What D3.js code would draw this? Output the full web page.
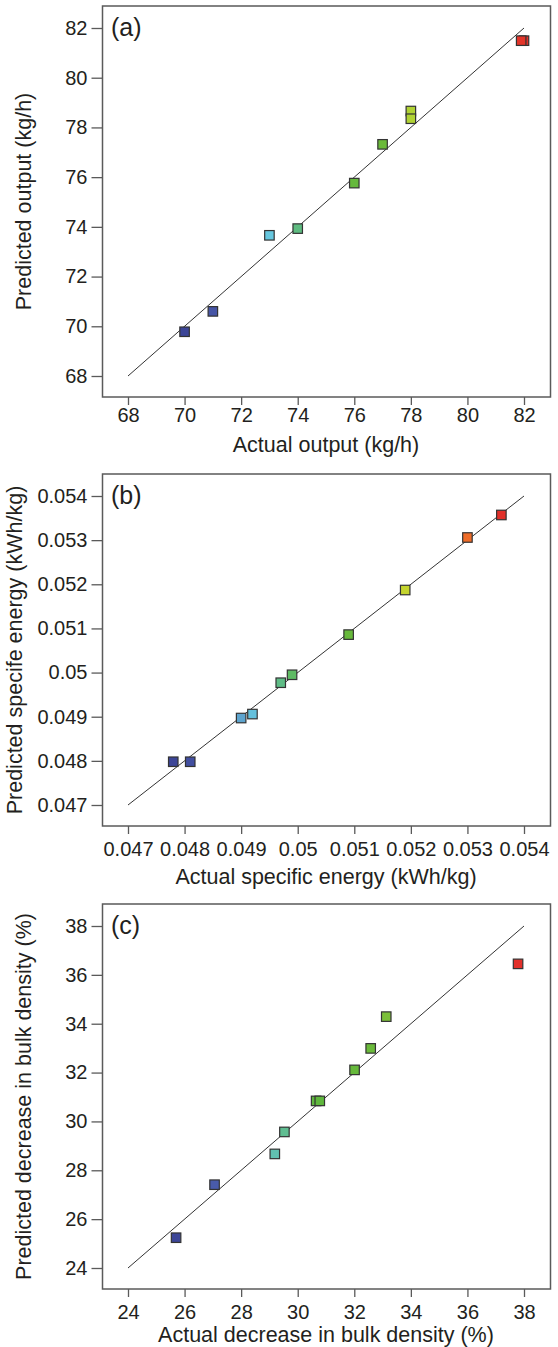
<!DOCTYPE html>
<html>
<head>
<meta charset="utf-8">
<script src="https://cdn.jsdelivr.net/npm/d3@7"></script>
<style>
  body { margin: 0; background: #fff; }
  svg { display: block; font-family: "Liberation Sans", Arial, sans-serif; }
  .tick text { fill: #231f20; }
</style>
</head>
<body>
<div id="chart"></div>
<script>
// panel (a) output
const aActual    = [70, 71, 73, 74, 76, 77, 78, 78, 82.0, 81.9];
const aPredicted = [69.78, 70.6, 73.66, 73.93, 75.76, 77.32, 78.66, 78.35, 81.49, 81.49];
const aTicks = [68, 70, 72, 74, 76, 78, 80, 82];

// panel (b) specific energy
const bActual    = [0.0478, 0.0481, 0.0490, 0.0492, 0.0497, 0.0499, 0.0509, 0.0519, 0.0530, 0.0536];
const bPredicted = [0.04798, 0.04798, 0.04897, 0.04906, 0.04977, 0.04995, 0.05086, 0.05187, 0.05306, 0.05357];
const bTicks = [0.047, 0.048, 0.049, 0.050, 0.051, 0.052, 0.053, 0.054];

// panel (c) decrease in bulk density
const cActual    = [25.7, 27.06, 29.19, 29.53, 30.65, 30.78, 32.01, 32.58, 33.13, 37.79];
const cPredicted = [25.24, 27.41, 28.67, 29.57, 30.84, 30.84, 32.11, 32.99, 34.29, 36.45];
const cTicks = [24, 26, 28, 30, 32, 34, 36, 38];

const width = 558, height = 1347;
const frameL = 102.5, frameR = 550.5;

// colour by actual value, low = blue, high = red
const colorStops = [0, 0.12, 0.25, 0.31, 0.4, 0.6, 0.67, 0.72, 0.9, 1];
const colorRange = ["#3c4597", "#4a5cab", "#66c7df", "#5fbd98", "#5db73d", "#6cba3a", "#b3d334", "#cad52c", "#f06a28", "#e2302a"];

const panels = [
    { label: "(a)", actual: aActual, predicted: aPredicted, ticks: aTicks,
      top: 6, bottom: 397, xPad: 3, titleDy: 54.5, yTitleX: 31,
      xTitle: "Actual output (kg/h)", yTitle: "Predicted output (kg/h)", fmt: d => d },
    { label: "(b)", actual: bActual, predicted: bPredicted, ticks: bTicks,
      top: 474, bottom: 826, xPad: 8, titleDy: 58, yTitleX: 22,
      xTitle: "Actual specific energy (kWh/kg)", yTitle: "Predicted specife energy (kWh/kg)", fmt: d => +d.toFixed(3) },
    { label: "(c)", actual: cActual, predicted: cPredicted, ticks: cTicks,
      top: 904, bottom: 1289, xPad: 7.5, titleDy: 53, yTitleX: 31,
      xTitle: "Actual decrease in bulk density (%)", yTitle: "Predicted decrease in bulk density (%)", fmt: d => d }
];

const svg = d3.select("#chart").append("svg")
    .attr("width", width)
    .attr("height", height);

panels.forEach(p => {
    const lo = p.ticks[0], hi = p.ticks[p.ticks.length - 1];
    const x = d3.scaleLinear().domain([lo, hi]).range([128, 524]);
    const y = d3.scaleLinear().domain([lo, hi]).range([p.bottom - 21, p.top + 22]);
    const ext = d3.extent(p.actual);
    const color = d3.scaleLinear()
        .domain(colorStops.map(t => ext[0] + t * (ext[1] - ext[0])))
        .range(colorRange);

    const g = svg.append("g");

    // frame
    g.append("rect")
        .attr("x", frameL).attr("y", p.top)
        .attr("width", frameR - frameL).attr("height", p.bottom - p.top)
        .attr("fill", "none").attr("stroke", "#5a5a5a").attr("stroke-width", 1.5);

    const xAxis = g.append("g")
        .attr("transform", `translate(0,${p.bottom})`)
        .call(d3.axisBottom(x).tickValues(p.ticks).tickFormat(p.fmt).tickSize(8).tickPadding(p.xPad));
    const yAxis = g.append("g")
        .attr("transform", `translate(${frameL},0)`)
        .call(d3.axisLeft(y).tickValues(p.ticks).tickFormat(p.fmt).tickSize(11).tickPadding(4));
    [xAxis, yAxis].forEach(a => {
        a.select(".domain").remove();
        a.selectAll(".tick line").attr("stroke", "#5a5a5a").attr("stroke-width", 1.3);
        a.selectAll(".tick text").style("font-size", "20px");
    });

    // 1:1 line
    g.append("line")
        .attr("x1", x(lo)).attr("y1", y(lo))
        .attr("x2", x(hi)).attr("y2", y(hi))
        .attr("stroke", "#333").attr("stroke-width", 1);

    const pts = p.actual.map((v, i) => ({ a: v, p: p.predicted[i] }));
    const s = 9.5;
    g.selectAll("rect.pt")
        .data(pts)
        .enter().append("rect")
        .attr("class", "pt")
        .attr("x", d => x(d.a) - s / 2)
        .attr("y", d => y(d.p) - s / 2)
        .attr("width", s).attr("height", s)
        .attr("fill", d => color(d.a))
        .attr("stroke", "#333")
        .attr("stroke-width", 1.2);

    g.append("text")
        .attr("x", frameL + 8.5).attr("y", p.top + 29.5)
        .attr("fill", "#231f20").style("font-size", "25px")
        .text(p.label);

    g.append("text")
        .attr("x", 326).attr("y", p.bottom + p.titleDy)
        .attr("text-anchor", "middle")
        .attr("fill", "#231f20").style("font-size", "21.5px")
        .text(p.xTitle);

    g.append("text")
        .attr("transform", `translate(${p.yTitleX},${(p.top + p.bottom) / 2}) rotate(-90)`)
        .attr("text-anchor", "middle")
        .attr("fill", "#231f20").style("font-size", "21.5px")
        .text(p.yTitle);
});
</script>
</body>
</html>
